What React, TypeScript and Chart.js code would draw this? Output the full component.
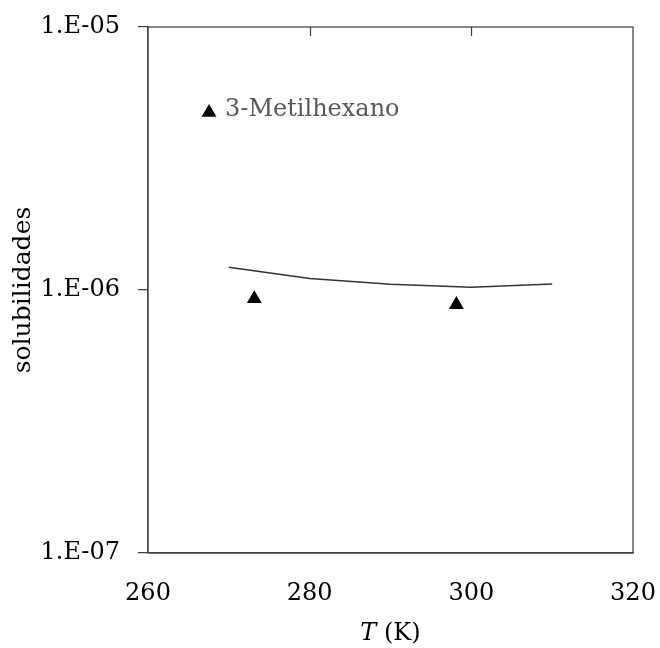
import React, { useEffect, useRef } from 'react';
import { Chart, registerables } from 'chart.js';

Chart.register(...registerables);

// ---- data ----
const LINE_T = [270, 280, 290, 300, 310];
const LINE_S = [1.22e-6, 1.106e-6, 1.052e-6, 1.024e-6, 1.054e-6];
const EXP_T = [273.15, 298.15];
const EXP_S = [9.26e-7, 8.8e-7];
const SERIES_NAME = '3-Metilhexano';
const X_TICKS = [260, 280, 300, 320];
const Y_TICKS = [1e-7, 1e-6, 1e-5];
const X_TITLE_ITALIC = 'T';
const X_TITLE_REST = ' (K)';
const Y_TITLE = 'solubilidades';

const FONT = '"DejaVu Serif", "Liberation Serif", serif';
const AXIS_COLOR = '#404040';

function fmtY(v: number): string {
  const e = Math.round(Math.log10(v));
  const sign = e < 0 ? '-' : '+';
  return `1.E${sign}${String(Math.abs(e)).padStart(2, '0')}`;
}

const framePlugin = {
  id: 'frameAndExtras',
  afterDraw(chart: any) {
    const { ctx, chartArea: a, scales } = chart;
    ctx.save();
    // plot frame
    ctx.strokeStyle = AXIS_COLOR;
    ctx.lineWidth = 1.25;
    ctx.strokeRect(a.left, a.top, a.right - a.left, a.bottom - a.top);
    // inside tick marks on the top edge
    const xs = scales.x;
    X_TICKS.forEach((v) => {
      if (v === xs.min || v === xs.max) return;
      const px = Math.round(xs.getPixelForValue(v)) + 0.5;
      ctx.beginPath();
      ctx.moveTo(px, a.top);
      ctx.lineTo(px, a.top + 9);
      ctx.stroke();
    });
    // legend (inside plot area)
    const cx = a.left + 61;
    const cy = a.top + 85.5;
    const r = 8.6;
    ctx.fillStyle = '#000';
    ctx.beginPath();
    ctx.moveTo(cx, cy - r);
    ctx.lineTo(cx + r * Math.sin(Math.PI / 3), cy + r / 2);
    ctx.lineTo(cx - r * Math.sin(Math.PI / 3), cy + r / 2);
    ctx.closePath();
    ctx.fill();
    ctx.fillStyle = '#595959';
    ctx.font = `24px ${FONT}`;
    ctx.textAlign = 'left';
    ctx.textBaseline = 'alphabetic';
    ctx.fillText(SERIES_NAME, a.left + 77, a.top + 89);
    // x-axis title with italic T
    const fontI = `italic 24px ${FONT}`;
    const fontN = `24px ${FONT}`;
    ctx.font = fontI;
    const w1 = ctx.measureText(X_TITLE_ITALIC).width;
    ctx.font = fontN;
    const w2 = ctx.measureText(X_TITLE_REST).width;
    const mid = (a.left + a.right) / 2;
    const start = mid - (w1 + w2) / 2;
    const ty = 640;
    ctx.fillStyle = '#000';
    ctx.textBaseline = 'alphabetic';
    ctx.font = fontI;
    ctx.fillText(X_TITLE_ITALIC, start, ty);
    ctx.font = fontN;
    ctx.fillText(X_TITLE_REST, start + w1, ty);
    ctx.restore();
  },
};

export default function App() {
  const ref = useRef<HTMLCanvasElement | null>(null);

  useEffect(() => {
    if (!ref.current) return;
    const lineData = LINE_T.map((t, i) => ({ x: t, y: LINE_S[i] }));
    const expData = EXP_T.map((t, i) => ({ x: t, y: EXP_S[i] }));
    const chart = new Chart(ref.current, {
      type: 'scatter',
      data: {
        datasets: [
          {
            label: 'modelo',
            data: lineData,
            showLine: true,
            borderColor: '#333333',
            borderWidth: 1.6,
            pointRadius: 0,
            tension: 0,
          },
          {
            label: SERIES_NAME,
            data: expData,
            showLine: false,
            pointStyle: 'triangle',
            pointRadius: 8.6,
            backgroundColor: '#000',
            borderColor: '#000',
            borderWidth: 0,
          },
        ],
      },
      options: {
        responsive: false,
        animation: false,
        layout: { padding: { top: 27, right: 27, left: 0, bottom: 0 } },
        plugins: {
          legend: { display: false },
          tooltip: { enabled: false },
        },
        scales: {
          x: {
            type: 'linear',
            position: 'bottom',
            min: 260,
            max: 320,
            afterBuildTicks: (s: any) => {
              s.ticks = X_TICKS.map((v) => ({ value: v }));
            },
            afterFit: (s: any) => {
              s.height = 95;
              s.paddingLeft = 0;
              s.paddingRight = 0;
            },
            grid: { display: false },
            border: { display: true, color: AXIS_COLOR, width: 1.25 },
            ticks: {
              color: '#000',
              font: { family: FONT, size: 24 },
              padding: 18,
              maxRotation: 0,
            },
          },
          y: {
            type: 'logarithmic',
            position: 'left',
            min: 1e-7,
            max: 1e-5,
            afterBuildTicks: (s: any) => {
              s.ticks = Y_TICKS.map((v) => ({ value: v }));
            },
            afterFit: (s: any) => {
              s.width = 148;
              s.paddingTop = 0;
              s.paddingBottom = 0;
            },
            grid: {
              display: true,
              drawOnChartArea: false,
              drawTicks: true,
              tickLength: 10,
              color: AXIS_COLOR,
              lineWidth: 1.25,
            },
            border: { display: true, color: AXIS_COLOR, width: 1.25 },
            ticks: {
              color: '#000',
              font: { family: FONT, size: 24 },
              padding: 18,
              callback: (v: any) => fmtY(Number(v)),
            },
            title: {
              display: true,
              text: Y_TITLE,
              color: '#000',
              font: { family: FONT, size: 25 },
              padding: { top: 8, bottom: 0 },
            },
          },
        },
      },
      plugins: [framePlugin],
    });
    return () => chart.destroy();
  }, []);

  return (
    <div style={{ position: 'fixed', left: 0, top: 0, width: 660, height: 648, background: '#fff' }}>
      <canvas ref={ref} width={660} height={648} style={{ display: 'block' }} />
    </div>
  );
}
